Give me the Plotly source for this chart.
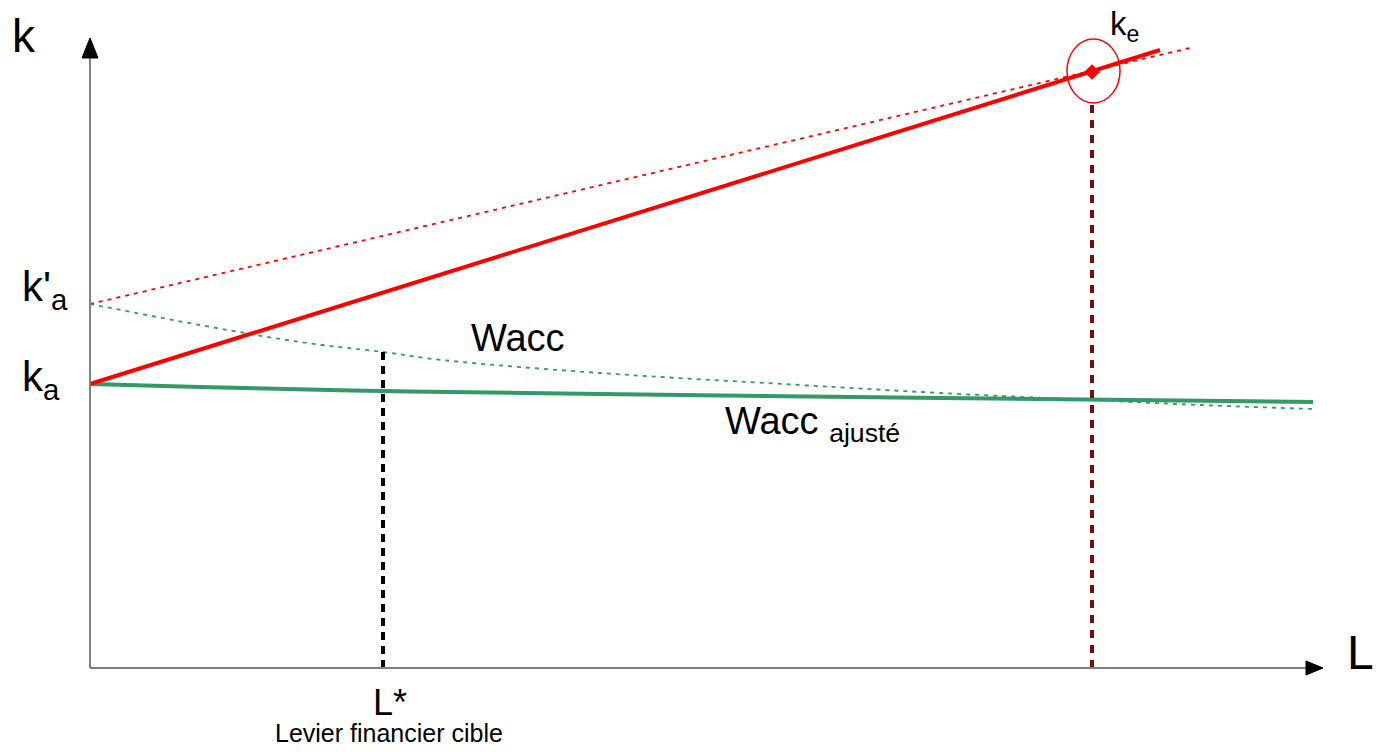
import plotly.graph_objects as go

# Data (L = leverage, k = cost of capital), schematic units
ke_L = [0.0, 10.7]
ke_k = [2.84, 6.18]
ke_dot_L = [0.0, 11.0]
ke_dot_k = [3.64, 6.20]
wacc_L = [0.0, 1.1, 2.1, 2.93, 3.52, 5.1, 7.1, 8.5, 10.0, 11.1, 12.23]
wacc_k = [3.64, 3.43, 3.26, 3.16, 3.08, 2.95, 2.83, 2.75, 2.68, 2.63, 2.59]
adj_L = [0.0, 1.1, 2.93, 5.1, 8.5, 12.23]
adj_k = [2.84, 2.81, 2.77, 2.74, 2.70, 2.66]
L_star = 2.93
L_star_top = 3.16
L_e = 10.02
L_e_top = 5.68
ke_point_k = 5.96
axis_x_end = 12.33
axis_y_end = 6.30

RED = "#ff0000"
GREEN = "#339966"
MAROON = "#7a0c0c"
FONT = "Liberation Sans, Arial, sans-serif"

fig = go.Figure()
fig.add_trace(go.Scatter(x=ke_dot_L, y=ke_dot_k, mode="lines",
                         line=dict(color=RED, width=1.8, dash="4px,5px")))
fig.add_trace(go.Scatter(x=wacc_L, y=wacc_k, mode="lines", line_shape="spline",
                         line=dict(color=GREEN, width=1.8, dash="4px,5px")))
fig.add_trace(go.Scatter(x=adj_L, y=adj_k, mode="lines", line_shape="spline",
                         line=dict(color=GREEN, width=4)))
fig.add_trace(go.Scatter(x=ke_L, y=ke_k, mode="lines",
                         line=dict(color=RED, width=4)))
fig.add_trace(go.Scatter(x=[L_star, L_star], y=[0, L_star_top], mode="lines",
                         line=dict(color="black", width=4, dash="8px,6px")))
fig.add_trace(go.Scatter(x=[L_e, L_e], y=[0, L_e_top], mode="lines",
                         line=dict(color=MAROON, width=4, dash="8px,7px")))
fig.add_trace(go.Scatter(x=[L_e], y=[ke_point_k], mode="markers",
                         marker=dict(symbol="diamond", color=RED, size=12)))

# axes lines
fig.add_shape(type="line", x0=0, y0=0, x1=0, y1=axis_y_end - 0.1,
              line=dict(color="#808080", width=2))
fig.add_shape(type="line", x0=0, y0=0, x1=axis_x_end - 0.1, y1=0,
              line=dict(color="#808080", width=2))
# arrowheads
fig.add_shape(type="path",
              path=f"M -0.08,{axis_y_end - 0.2} L 0.08,{axis_y_end - 0.2} L 0,{axis_y_end} Z",
              fillcolor="black", line=dict(color="black", width=1))
fig.add_shape(type="path",
              path=f"M {axis_x_end - 0.17},0.07 L {axis_x_end - 0.17},-0.07 L {axis_x_end},0 Z",
              fillcolor="black", line=dict(color="black", width=1))
# circle around k_e
fig.add_shape(type="circle", x0=L_e - 0.25, x1=L_e + 0.28,
              y0=ke_point_k - 0.31, y1=ke_point_k + 0.33,
              line=dict(color=RED, width=1.5))

def txt(x, y, s, size, xanchor="left", yanchor="middle"):
    fig.add_annotation(x=x, y=y, text=s, showarrow=False, xanchor=xanchor,
                       yanchor=yanchor, font=dict(family=FONT, size=size, color="black"))

txt(-0.80, 6.325, "k", 46)
txt(-0.70, 3.785, "k'<sub>a</sub>", 42)
txt(-0.70, 2.89, "k<sub>a</sub>", 42)
txt(3.79, 3.30, "Wacc", 38)
txt(6.33, 2.44, "Wacc <sub>ajusté</sub>", 38)
txt(10.18, 6.42, "k<sub>e</sub>", 33)
txt(12.55, 0.155, "L", 48)
txt(2.995, -0.34, "L*", 36, xanchor="center")
txt(2.99, -0.645, "Levier financier cible", 25, xanchor="center")

# page body has an 8px margin: figure is 1374x744 so it fills the 1382x752 window
fig.update_layout(
    width=1374, height=744, margin=dict(l=0, r=0, t=0, b=0),
    paper_bgcolor="white", plot_bgcolor="white", showlegend=False,
    xaxis=dict(range=[-0.82, 12.92], visible=False, fixedrange=True),
    yaxis=dict(range=[-0.84, 6.60], visible=False, fixedrange=True),
)
fig.write_html("out.html")
